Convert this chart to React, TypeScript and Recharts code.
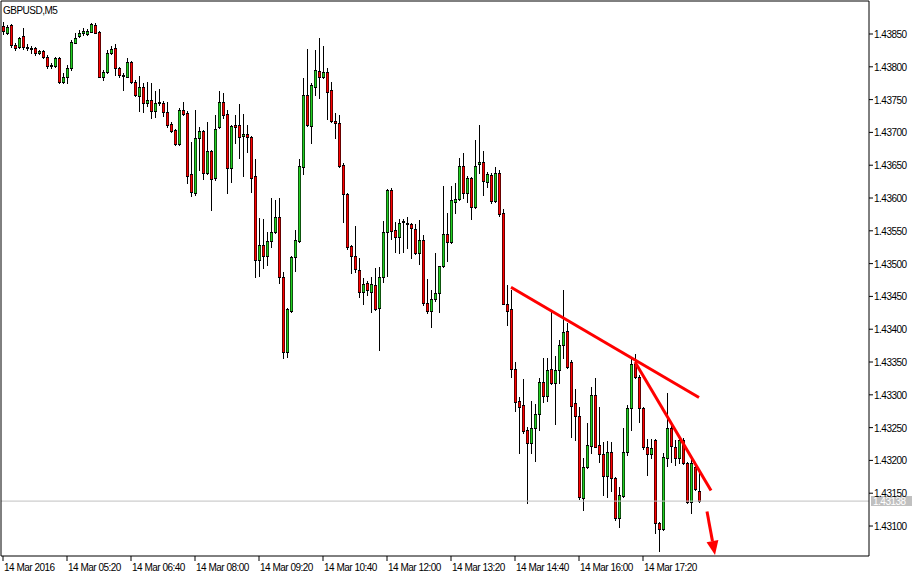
import { Bar, ComposedChart, ReferenceLine, XAxis, YAxis } from "recharts";

const SYMBOL = "GBPUSD,M5";
const LAST_PRICE = 1.43138;

// 5-minute bars, 14 Mar 2016 from 04:00
const OPEN = [
  1.43862, 1.43852, 1.43864, 1.43833, 1.4383, 1.43847, 1.43829, 1.43827, 1.43829, 1.43821,
  1.43824, 1.43815, 1.43801, 1.43801, 1.43813, 1.43777, 1.43784, 1.43798, 1.43836, 1.43847,
  1.43852, 1.4385, 1.43853, 1.43864, 1.43853, 1.43784, 1.43792, 1.43821, 1.43829, 1.43798,
  1.43786, 1.43784, 1.43807, 1.43777, 1.43755, 1.43769, 1.43745, 1.43749, 1.43733, 1.43745,
  1.43745, 1.43731, 1.43713, 1.43704, 1.43682, 1.43734, 1.4373, 1.43637, 1.43608, 1.43692,
  1.43702, 1.43638, 1.43672, 1.43631, 1.43708, 1.43746, 1.43728, 1.43646, 1.43711, 1.43711,
  1.43695, 1.43698, 1.43693, 1.43634, 1.43506, 1.43528, 1.43512, 1.43535, 1.43548, 1.43571,
  1.4348, 1.43365, 1.43428, 1.4351, 1.43535, 1.43647, 1.43757, 1.4371, 1.43769, 1.43794,
  1.43784, 1.43792, 1.43765, 1.43717, 1.43714, 1.4365, 1.43606, 1.43527, 1.43512, 1.4349,
  1.43457, 1.43471, 1.43457, 1.43467, 1.43432, 1.4348, 1.43548, 1.43612, 1.43551, 1.43541,
  1.43563, 1.43562, 1.4356, 1.43553, 1.43516, 1.43536, 1.4344, 1.43428, 1.43446, 1.43455,
  1.43496, 1.43545, 1.43533, 1.43594, 1.43599, 1.43649, 1.43608, 1.43631, 1.43586, 1.43652,
  1.43655, 1.43624, 1.43635, 1.43595, 1.43638, 1.43577, 1.43439, 1.43431, 1.43339, 1.43291,
  1.43285, 1.43246, 1.43227, 1.4325, 1.43271, 1.4332, 1.43298, 1.43339, 1.43318, 1.43338,
  1.43376, 1.43397, 1.4335, 1.43288, 1.43268, 1.43143, 1.4319, 1.43222, 1.433, 1.43224,
  1.4321, 1.43176, 1.43213, 1.43173, 1.43112, 1.43146, 1.43213, 1.4328, 1.43347, 1.43327,
  1.4328, 1.43221, 1.4321, 1.43231, 1.43105, 1.43096, 1.43204, 1.4325, 1.43221, 1.43204,
  1.43231, 1.43196, 1.43137, 1.4319, 1.43154,
];
const HIGH = [
  1.43868, 1.43864, 1.43865, 1.43836, 1.43845, 1.43859, 1.43835, 1.43832, 1.4383, 1.43826,
  1.43826, 1.43818, 1.43806, 1.43815, 1.43815, 1.43791, 1.43803, 1.43841, 1.43852, 1.43856,
  1.43859, 1.43858, 1.43867, 1.43867, 1.43855, 1.43795, 1.43826, 1.43832, 1.43835, 1.438,
  1.43791, 1.43813, 1.43809, 1.4378, 1.43786, 1.43775, 1.43777, 1.43775, 1.43763, 1.43766,
  1.43748, 1.43746, 1.43716, 1.43705, 1.43737, 1.43746, 1.43732, 1.43685, 1.43734, 1.43708,
  1.43704, 1.43716, 1.43673, 1.43727, 1.43763, 1.4376, 1.43734, 1.43711, 1.43727, 1.43743,
  1.43728, 1.43711, 1.43694, 1.43659, 1.4357, 1.43568, 1.43548, 1.436, 1.43597, 1.436,
  1.43487, 1.43432, 1.43512, 1.43551, 1.4366, 1.43783, 1.43827, 1.43775, 1.43826, 1.43844,
  1.43832, 1.43798, 1.43777, 1.4373, 1.43727, 1.43653, 1.43608, 1.43528, 1.43557, 1.43509,
  1.43478, 1.43474, 1.4348, 1.43493, 1.43495, 1.43565, 1.43614, 1.43615, 1.43563, 1.43568,
  1.43568, 1.43571, 1.43562, 1.4356, 1.43567, 1.43544, 1.43477, 1.4346, 1.43516, 1.43497,
  1.43618, 1.43577, 1.43618, 1.43623, 1.43661, 1.43669, 1.43634, 1.43632, 1.43688, 1.43711,
  1.43672, 1.4364, 1.43638, 1.43647, 1.43643, 1.43583, 1.43467, 1.4346, 1.4335, 1.43297,
  1.43324, 1.43251, 1.43291, 1.43286, 1.43326, 1.43356, 1.43356, 1.43426, 1.43359, 1.43384,
  1.4346, 1.43409, 1.43353, 1.43309, 1.43282, 1.43204, 1.43257, 1.43312, 1.43326, 1.43282,
  1.43228, 1.4323, 1.43228, 1.43175, 1.4316, 1.4325, 1.43285, 1.43355, 1.43362, 1.4333,
  1.43282, 1.43233, 1.43233, 1.43233, 1.43106, 1.43211, 1.43303, 1.43254, 1.43231, 1.43234,
  1.43234, 1.43198, 1.43204, 1.43192, 1.43183,
];
const LOW = [
  1.4385, 1.4385, 1.4383, 1.43826, 1.43829, 1.43827, 1.43826, 1.43821, 1.43818, 1.4382,
  1.43813, 1.43798, 1.43798, 1.438, 1.43775, 1.43775, 1.43775, 1.43795, 1.43836, 1.43845,
  1.43848, 1.43848, 1.43853, 1.43852, 1.43784, 1.4378, 1.43791, 1.4382, 1.43788, 1.43784,
  1.43765, 1.43784, 1.43775, 1.43755, 1.43733, 1.43731, 1.4374, 1.43722, 1.43724, 1.43742,
  1.43725, 1.43708, 1.43701, 1.43681, 1.43681, 1.43727, 1.43623, 1.43603, 1.43605, 1.43643,
  1.43629, 1.43637, 1.43582, 1.43627, 1.43707, 1.43722, 1.43608, 1.43624, 1.43684, 1.43661,
  1.43634, 1.4367, 1.43609, 1.4348, 1.43481, 1.43493, 1.43498, 1.43525, 1.43547, 1.43471,
  1.43356, 1.43358, 1.43426, 1.43489, 1.43533, 1.43637, 1.4371, 1.43684, 1.43757, 1.43752,
  1.43783, 1.4372, 1.43716, 1.43691, 1.43647, 1.43563, 1.43522, 1.43486, 1.43487, 1.43449,
  1.43439, 1.43452, 1.43426, 1.4343, 1.43368, 1.43472, 1.43481, 1.43538, 1.43518, 1.43516,
  1.43518, 1.43524, 1.43509, 1.43515, 1.43499, 1.43437, 1.43425, 1.43403, 1.43443, 1.43426,
  1.43495, 1.43504, 1.43531, 1.43577, 1.43597, 1.436, 1.43594, 1.43568, 1.43585, 1.43638,
  1.43605, 1.43617, 1.43592, 1.43594, 1.43573, 1.43438, 1.43407, 1.43327, 1.43275, 1.43211,
  1.43242, 1.43135, 1.43211, 1.43199, 1.43246, 1.43289, 1.43291, 1.43317, 1.43256, 1.43318,
  1.43356, 1.43341, 1.43236, 1.43231, 1.43141, 1.43125, 1.43189, 1.43211, 1.4322, 1.43198,
  1.43147, 1.43144, 1.43154, 1.43109, 1.43099, 1.43144, 1.43209, 1.43246, 1.43326, 1.43259,
  1.43218, 1.43178, 1.43204, 1.4309, 1.43062, 1.43094, 1.43192, 1.43198, 1.43193, 1.43196,
  1.43195, 1.43135, 1.4312, 1.43155, 1.43137,
];
const CLOSE = [
  1.43855, 1.43861, 1.43833, 1.43829, 1.43844, 1.4383, 1.4383, 1.43828, 1.43821, 1.43824,
  1.43815, 1.43801, 1.43802, 1.43813, 1.43777, 1.43784, 1.43798, 1.43838, 1.43844, 1.43852,
  1.43855, 1.43855, 1.43865, 1.43852, 1.43784, 1.43792, 1.43821, 1.43827, 1.43798, 1.43788,
  1.43787, 1.43807, 1.43777, 1.43757, 1.43769, 1.43745, 1.43749, 1.43733, 1.43745, 1.43746,
  1.43731, 1.43711, 1.43702, 1.43682, 1.43734, 1.43728, 1.43634, 1.43609, 1.43692, 1.43702,
  1.43638, 1.43672, 1.43629, 1.43705, 1.43746, 1.43727, 1.43646, 1.4371, 1.43708, 1.43693,
  1.43698, 1.43693, 1.43631, 1.43506, 1.43528, 1.43512, 1.43535, 1.43548, 1.43571, 1.4348,
  1.43365, 1.43431, 1.4351, 1.43536, 1.43649, 1.43757, 1.43711, 1.43772, 1.43795, 1.43784,
  1.43792, 1.43762, 1.43717, 1.43714, 1.43649, 1.43606, 1.43525, 1.43512, 1.43492, 1.43457,
  1.43469, 1.4346, 1.43469, 1.43431, 1.4348, 1.43548, 1.43612, 1.4355, 1.43541, 1.43562,
  1.43565, 1.43561, 1.43554, 1.43516, 1.43536, 1.4344, 1.43428, 1.43446, 1.43455, 1.43496,
  1.43545, 1.43533, 1.43597, 1.43599, 1.43649, 1.43608, 1.43631, 1.43586, 1.43649, 1.43655,
  1.43626, 1.43637, 1.43595, 1.43638, 1.43576, 1.43439, 1.43428, 1.43339, 1.43289, 1.43282,
  1.43245, 1.43227, 1.4325, 1.43271, 1.4332, 1.43298, 1.43338, 1.43318, 1.43338, 1.43376,
  1.43396, 1.43343, 1.43283, 1.43268, 1.43144, 1.4319, 1.43224, 1.433, 1.43221, 1.4321,
  1.43176, 1.43213, 1.43173, 1.43112, 1.43147, 1.43213, 1.4328, 1.43347, 1.43327, 1.4328,
  1.43221, 1.4321, 1.43219, 1.43105, 1.43096, 1.43205, 1.4325, 1.43222, 1.43204, 1.43231,
  1.43196, 1.43137, 1.43196, 1.43157, 1.43138,
];

const TIME_LABELS = [
  "14 Mar 2016",
  "14 Mar 05:20",
  "14 Mar 06:40",
  "14 Mar 08:00",
  "14 Mar 09:20",
  "14 Mar 10:40",
  "14 Mar 12:00",
  "14 Mar 13:20",
  "14 Mar 14:40",
  "14 Mar 16:00",
  "14 Mar 17:20",
];
const BARS_PER_LABEL = 16;
const SLOTS = 217; // bar slots across the plot, the tail is the empty chart shift

const PRICE_TICKS = [
  1.431, 1.4315, 1.432, 1.4325, 1.433, 1.4335, 1.434, 1.4345, 1.435, 1.4355, 1.436, 1.4365, 1.437,
  1.4375, 1.438, 1.4385,
];
const PRICE_DOMAIN = [1.430543, 1.439003];

// hand drawn objects (bar index, price)
const TREND_UPPER = [
  { x: 127, y: 1.43464 },
  { x: 174, y: 1.43296 },
];
const TREND_LOWER = [
  { x: 158, y: 1.4335 },
  { x: 177, y: 1.43154 },
];
const ARROW = [
  { x: 176, y: 1.43122 },
  { x: 178, y: 1.43056 },
];

const FONT = "'Liberation Sans', Arial, sans-serif";
const BULL = "#22d022";
const BEAR = "#ff0000";
const DRAW = "#ff0000";

const rows = Array.from({ length: SLOTS }, (_, i) =>
  i < OPEN.length ? { i, o: OPEN[i], h: HIGH[i], l: LOW[i], c: CLOSE[i] } : { i },
);

function Candle(props: any) {
  const { x, y, width, height, payload } = props;
  if (!payload || payload.o == null) return <g />;
  const { o, h, l, c } = payload;
  const top = Math.min(y, y + height);
  const span = Math.abs(height);
  const k = h === l ? 0 : span / (h - l);
  const py = (v: number) => Math.round(top + (h - v) * k);
  const col = Math.floor(x + width / 2);
  const yH = py(h);
  const yL = py(l);
  const bTop = Math.min(py(o), py(c));
  const bBot = Math.max(py(o), py(c));
  const bh = bBot - bTop + 1;
  if (bh <= 2) {
    return (
      <g>
        <rect x={col} y={yH} width={1} height={yL - yH + 1} fill="#000" />
        <rect x={col - 1} y={bTop} width={3} height={bh} fill="#000" />
      </g>
    );
  }
  return (
    <g>
      <rect x={col} y={yH} width={1} height={yL - yH + 1} fill="#000" />
      <rect x={col - 1} y={bTop} width={3} height={bh} fill={c >= o ? BULL : BEAR} />
      <rect x={col - 1} y={bTop} width={3} height={1} fill="#000" />
      <rect x={col - 1} y={bBot} width={3} height={1} fill="#000" />
      <rect x={col - 1} y={bTop + 1} width={1} height={bh - 2} fill="#000" fillOpacity={0.6} />
      <rect x={col + 1} y={bTop + 1} width={1} height={bh - 2} fill="#000" fillOpacity={0.6} />
    </g>
  );
}

function TimeTick({ x, y, payload }: any) {
  const label = TIME_LABELS[payload.value / BARS_PER_LABEL];
  return (
    <text x={x + 1} y={y + 8} fontSize={10} letterSpacing={-0.5} fontFamily={FONT} fill="#000" textAnchor="start">
      {label}
    </text>
  );
}

function PriceTick({ x, y, payload }: any) {
  return (
    <text x={x} y={y + 4} fontSize={10} letterSpacing={-0.5} fontFamily={FONT} fill="#000" textAnchor="start">
      {Number(payload.value).toFixed(5)}
    </text>
  );
}

function PriceBadge(props: any) {
  const { x, y, width } = props.viewBox ?? {};
  if (x == null) return null;
  const right = x + width;
  const cy = Math.round(y);
  return (
    <g>
      <rect x={right + 2} y={cy - 5} width={41} height={10} fill="#c0c0c0" />
      <text x={right + 4} y={cy + 4} fontSize={10} letterSpacing={-0.5} fontFamily={FONT} fill="#fff">
        {LAST_PRICE.toFixed(5)}
      </text>
    </g>
  );
}

function ArrowShape(props: any) {
  const { x1, y1, x2, y2 } = props;
  const dx = x2 - x1;
  const dy = y2 - y1;
  const len = Math.hypot(dx, dy) || 1;
  const ux = dx / len;
  const uy = dy / len;
  const head = 14;
  const half = 6;
  const bx = x2 - ux * head;
  const by = y2 - uy * head;
  return (
    <g>
      <line x1={x1} y1={y1} x2={bx} y2={by} stroke={DRAW} strokeWidth={3} />
      <polygon
        points={`${x2},${y2} ${bx - uy * half},${by + ux * half} ${bx + uy * half},${by - ux * half}`}
        fill={DRAW}
      />
    </g>
  );
}

export default function App() {
  return (
    <div style={{ position: "absolute", left: 0, top: 0, width: 921, height: 578, background: "#fff" }}>
      <ComposedChart width={921} height={578} data={rows} margin={{ top: 0, right: 0, bottom: 0, left: 0 }} barSize={3}>
        <XAxis
          dataKey="i"
          type="category"
          ticks={TIME_LABELS.map((_, k) => k * BARS_PER_LABEL)}
          interval={0}
          height={22}
          tickSize={5}
          tickMargin={2}
          tick={TimeTick}
          axisLine={{ stroke: "#000" }}
          tickLine={{ stroke: "#000" }}
        />
        <XAxis xAxisId="top" orientation="top" dataKey="i" type="category" height={1} tick={false} tickLine={false} axisLine={{ stroke: "#000" }} />
        <YAxis
          orientation="right"
          type="number"
          domain={PRICE_DOMAIN}
          ticks={PRICE_TICKS}
          allowDataOverflow
          width={52}
          tickSize={4}
          tickMargin={1}
          tick={PriceTick}
          axisLine={{ stroke: "#000" }}
          tickLine={{ stroke: "#000" }}
        />
        <YAxis yAxisId="left" orientation="left" type="number" domain={PRICE_DOMAIN} width={1} tick={false} tickLine={false} axisLine={{ stroke: "#000" }} />
        <ReferenceLine y={LAST_PRICE} stroke="#c0c0c0" label={(p: any) => <PriceBadge {...p} />} />
        <Bar dataKey={(d: any) => (d.h == null ? null : [d.l, d.h])} shape={Candle} isAnimationActive={false} />
        <ReferenceLine segment={TREND_UPPER} stroke={DRAW} strokeWidth={3} ifOverflow="visible" />
        <ReferenceLine segment={TREND_LOWER} stroke={DRAW} strokeWidth={3} ifOverflow="visible" />
        <ReferenceLine segment={ARROW} ifOverflow="visible" shape={ArrowShape} />
      </ComposedChart>
      <div
        style={{
          position: "absolute",
          left: 3,
          top: 5,
          fontFamily: FONT,
          fontSize: 10,
          lineHeight: "12px",
          letterSpacing: -0.5,
          color: "#000",
        }}
      >
        {SYMBOL}
      </div>
    </div>
  );
}
